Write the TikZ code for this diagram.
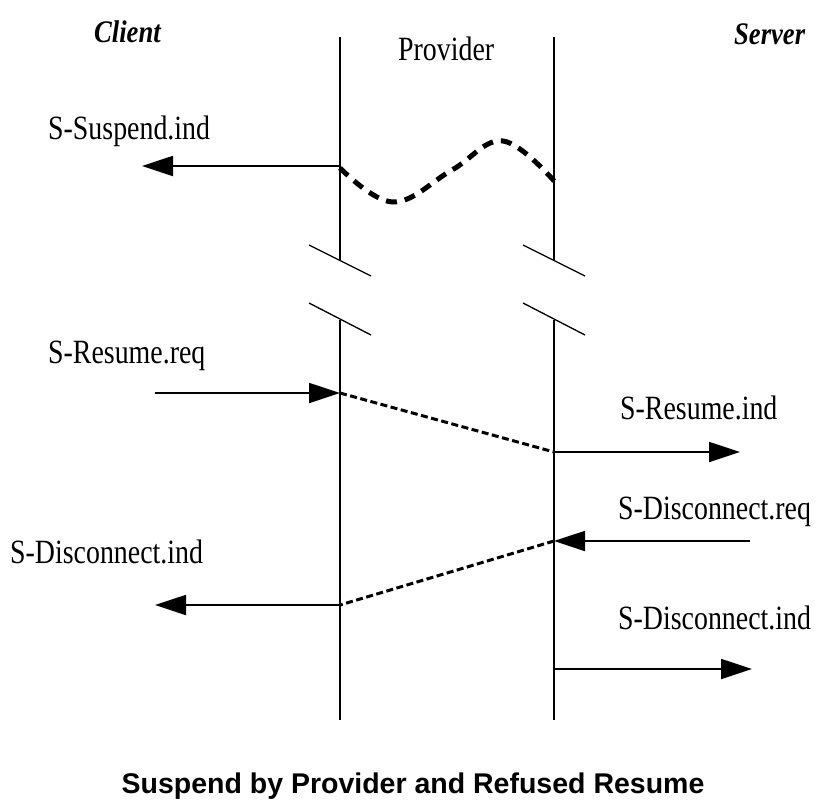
\documentclass[tikz,border=0pt]{standalone}
\usepackage{graphicx}
\usepackage{fontspec}
\setmainfont{Liberation Serif}
\newfontfamily\capfont{Liberation Sans}
\usetikzlibrary{arrows.meta}

% narrow, tall serif labels
\newcommand\narrowlbl[1]{\scalebox{0.82}[1]{#1}}
% slightly tall role headings
\newcommand\tallrole[1]{\scalebox{0.95}[1.12]{#1}}

\tikzset{
  lifeline/.style={line width=1.4pt},
  breakmark/.style={line width=1.3pt},
  msg/.style={line width=1.8pt, -{Triangle[length=31pt,width=20pt]}},
  relay/.style={line width=3pt, dash pattern=on 7pt off 3.5pt},
  wave/.style={line width=5pt, dash pattern=on 11pt off 8pt},
  lbl/.style={anchor=base west, inner sep=0pt,
    font=\fontsize{34}{40}\selectfont},
  role/.style={anchor=base west, inner sep=0pt,
    font=\fontsize{28}{32}\selectfont\bfseries\itshape},
  caption/.style={anchor=base, inner sep=0pt,
    font=\capfont\bfseries\fontsize{28.5}{34}\selectfont}
}

\begin{document}
\begin{tikzpicture}[x=1pt,y=-1pt]
\useasboundingbox (0,0) rectangle (827,801);

% header labels
\node[role] (client) at (94,42) {\tallrole{Client}};
\node[role] (server) at (734,44) {\tallrole{Server}};
\node[lbl] (provider) at (398,60) {\narrowlbl{Provider}};

% lifelines of the provider boundary, each broken in the middle
\coordinate (lt) at (340,37);
\coordinate (lb1) at (340,261);
\coordinate (lb2) at (340,320);
\coordinate (lbot) at (340,720);
\coordinate (rt) at (554,37);
\coordinate (rb1) at (554,261);
\coordinate (rb2) at (554,320);
\coordinate (rbot) at (554,720);
\draw[lifeline] (lt) -- (lb1) (lb2) -- (lbot);
\draw[lifeline] (rt) -- (rb1) (rb2) -- (rbot);

% break marks
\draw[breakmark] (309,245) -- (371,276) (309,303) -- (371,335);
\draw[breakmark] (523,245) -- (585,276) (523,303) -- (585,335);

% suspend by provider
\coordinate (susL) at (340,166);
\coordinate (susEnd) at (142,166);
\draw[msg] (susL) -- (susEnd);
\node[lbl] (susLbl) at (48,139) {\narrowlbl{S-Suspend.ind}};
\draw[wave] plot[smooth, tension=0.65] coordinates
  {(340,168) (393,202) (452,170) (503,141) (555,182)};

% resume request
\coordinate (rqStart) at (155,393);
\coordinate (rqL) at (340,393);
\coordinate (rqR) at (554,452);
\coordinate (riEnd) at (740,452);
\node[lbl] (rqLbl) at (48,363) {\narrowlbl{S-Resume.req}};
\draw[msg] (rqStart) -- (rqL);
\draw[relay] (rqL) -- (rqR);
\draw[msg] (rqR) -- (riEnd);
\node[lbl] (riLbl) at (620,419) {\narrowlbl{S-Resume.ind}};

% refused: disconnect
\coordinate (drStart) at (750,541);
\coordinate (drR) at (554,541);
\coordinate (diL) at (340,605);
\coordinate (diEnd) at (155,605);
\node[lbl] (drLbl) at (618,519) {\narrowlbl{S-Disconnect.req}};
\draw[msg] (drStart) -- (drR);
\draw[relay] (drR) -- (diL);
\draw[msg] (diL) -- (diEnd);
\node[lbl] (diLbl) at (10,563) {\narrowlbl{S-Disconnect.ind}};

\coordinate (di2R) at (554,669);
\coordinate (di2End) at (752,669);
\draw[msg] (di2R) -- (di2End);
\node[lbl] (di2Lbl) at (618,629) {\narrowlbl{S-Disconnect.ind}};

% caption
\node[caption] (cap) at (413,793) {Suspend by Provider and Refused Resume};
\end{tikzpicture}
\end{document}
